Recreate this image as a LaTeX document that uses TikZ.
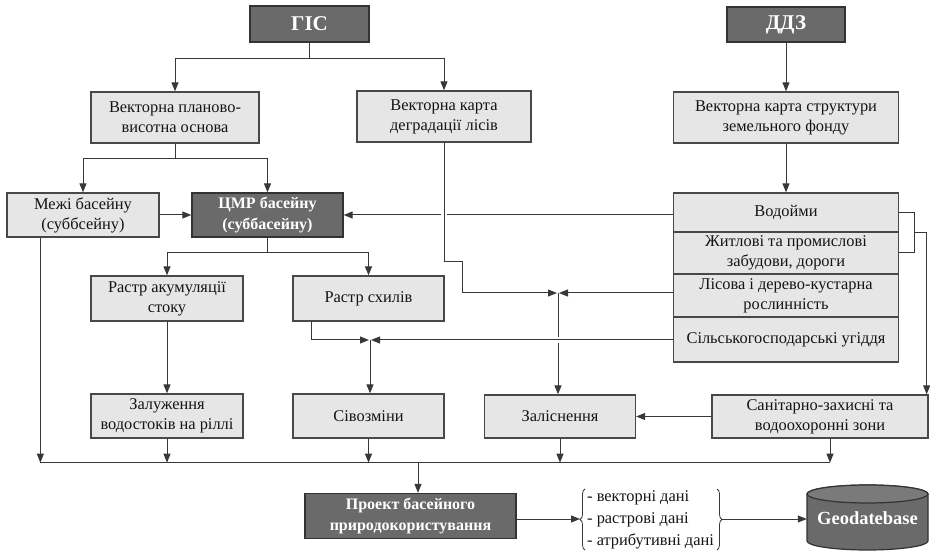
\documentclass[tikz,border=0pt]{standalone}
\usepackage{fontspec}
\setmainfont{Liberation Serif}
\usetikzlibrary{arrows.meta,calc,decorations.pathreplacing}
\definecolor{lightfill}{HTML}{E6E6E6}
\definecolor{darkfill}{HTML}{6A6A6A}
\definecolor{topfill}{HTML}{7A7A7A}
\definecolor{edgecol}{HTML}{484848}
\definecolor{wirecol}{HTML}{383838}
\begin{document}
\begin{tikzpicture}[x=1pt,y=-1pt,
  lbox/.style={draw=edgecol, line width=1.3pt, fill=lightfill, align=center,
    font=\fontsize{16.4}{20}\selectfont, inner sep=0pt, text=black!92},
  dbox/.style={draw=black!80, line width=1.3pt, fill=darkfill, align=center,
    font=\fontsize{16}{21}\selectfont\bfseries, text=white, inner sep=0pt},
  wire/.style={draw=wirecol, line width=1pt},
  arr/.style={wire, -{Triangle[length=9pt,width=7pt]}},
]
\useasboundingbox (0,0) rectangle (930,553);

% ---- nodes
\node[dbox, font=\fontsize{21}{24}\selectfont\bfseries, minimum width=119, minimum height=36] (gis) at (309.5,24) {ГІС};
\node[dbox, font=\fontsize{21}{24}\selectfont\bfseries, minimum width=118, minimum height=35] (ddz) at (786,24.5) {ДДЗ};
\node[lbox, minimum width=168, minimum height=51] (vpvo) at (175,117.5) {Векторна планово-\\висотна основа};
\node[lbox, minimum width=174, minimum height=51] (vkdl) at (444,116.5) {Векторна карта\\деградації лісів};
\node[lbox, minimum width=225, minimum height=51] (vksz) at (786,117.5) {Векторна карта структури\\земельного фонду};
\node[lbox, minimum width=152, minimum height=44] (mezhi) at (83,215) {Межі басейну\\(суббсейну)};
\node[dbox, minimum width=151, minimum height=44] (cmr) at (267.5,215) {ЦМР басейну\\(суббасейну)};
\node[lbox, minimum width=152, minimum height=45] (rak) at (167,298.5) {Растр акумуляції\\стоку};
\node[lbox, minimum width=151, minimum height=45] (rsh) at (368.5,298.5) {Растр схилів};
\node[lbox, minimum width=225, minimum height=39] (vod) at (786,212.5) {Водойми};
\node[lbox, minimum width=225, minimum height=42] (zhyt) at (786,253) {Житлові та промислові\\забудови, дороги};
\node[lbox, minimum width=225, minimum height=43] (lis) at (786,295.5) {Лісова і дерево-кустарна\\рослинність};
\node[lbox, minimum width=225, minimum height=45] (silg) at (786,339.5) {Сільськогосподарські угіддя};
\node[lbox, minimum width=152, minimum height=44] (zaluzh) at (167,416) {Залуження\\водостоків на ріллі};
\node[lbox, minimum width=151, minimum height=44] (sivoz) at (368.5,416) {Сівозміни};
\node[lbox, minimum width=151, minimum height=43] (zalis) at (560,416.5) {Заліснення};
\node[lbox, minimum width=216, minimum height=43] (sanit) at (820,416.5) {Санітарно-захисні та\\водоохоронні зони};
\node[dbox, minimum width=211, minimum height=45] (proekt) at (410.5,516) {Проект басейного\\природокористування};

% ---- cylinder
\filldraw[fill=darkfill, draw=black!80, line width=1.2pt]
  (807,494) -- (807,541) arc[start angle=180, end angle=360, x radius=60.5pt, y radius=9pt]
  -- (928,494) arc[start angle=0, end angle=180, x radius=60.5pt, y radius=9pt] -- cycle;
\filldraw[fill=topfill, draw=black!80, line width=1.2pt] (867.5,494) ellipse[x radius=60.5pt, y radius=9pt];
\node[minimum width=121, minimum height=66, inner sep=0pt, text=white,
  font=\fontsize{18.5}{20}\selectfont\bfseries] (geo) at (867.5,518) {\raisebox{-5pt}{Geodatebase}};

% ---- coordinates
\coordinate (gisbus) at ($(gis.south)+(0,16)$);
\coordinate (vbus) at ($(vpvo.south)+(0,15)$);
\coordinate (cbus) at ($(cmr.south)+(0,15)$);
\coordinate (J1) at (558,293);
\coordinate (J2) at (370,340);
\coordinate (cross) at (vkdl.south |- cmr.east);
\coordinate (cross2) at (J1 |- J2);
\coordinate (brk) at ($(vod.east)!0.5!(zhyt.east)+(15,0)$);
\coordinate (busL) at ($(mezhi.south west)+(34,225)$);
\coordinate (busR) at ($(sanit.south |- busL)+(10,0)$);
\coordinate (pin) at ($(proekt.north)+(7.5,0)$);
\coordinate (brL) at (580,519);
\coordinate (brR) at (722,519);

% ---- connectors
\draw[wire] (gis.south) -- (gisbus);
\draw[arr] (gisbus) -| (vpvo.north);
\draw[arr] (gisbus) -| (vkdl.north);
\draw[arr] (ddz.south) -- (vksz.north);
\draw[arr] (vksz.south) -- (vod.north);

\draw[wire] (vpvo.south) -- (vbus);
\draw[arr] (vbus) -| (mezhi.north);
\draw[arr] (vbus) -| (cmr.north);
\draw[arr] (mezhi.east) -- (cmr.west);
\draw[arr] (vod.west |- cmr.east) -- (cmr.east);

\draw[wire] (cmr.south) -- (cbus);
\draw[arr] (cbus) -| (rak.north);
\draw[arr] (cbus) -| (rsh.north);

\fill[white] ($(cross)+(-3,-3)$) rectangle ($(cross)+(3,3)$);
\draw[arr] (vkdl.south) -- ++(0,119) -- ++(18,0) |- ($(J1)+(-1,0)$);
\draw[arr] (lis.west |- J1) -- ($(J1)+(1,0)$);
\draw[arr] (J1) -- (J1 |- zalis.north);

\fill[white] ($(cross2)+(-3,-3)$) rectangle ($(cross2)+(3,3)$);
\draw[arr] ($(rsh.south west)+(19,0)$) |- ($(J2)+(-1,0)$);
\draw[arr] (silg.west |- J2) -- ($(J2)+(1,0)$);
\draw[arr] (J2) -- (J2 |- sivoz.north);

\draw[arr] (rak.south) -- (zaluzh.north);

\draw[wire] (vod.east) -- ++(15,0) |- (zhyt.east);
\draw[arr] (brk) -| ($(sanit.north east)+(-2,0)$);
\draw[arr] (sanit.west) -- (zalis.east);

\draw[wire] (busL) -- (busR);
\draw[arr] (mezhi.south west -| busL) -- (busL);
\draw[arr] (zaluzh.south) -- (zaluzh.south |- busL);
\draw[arr] (sivoz.south) -- (sivoz.south |- busL);
\draw[arr] (zalis.south) -- (zalis.south |- busL);
\draw[arr] (busR |- sanit.south) -- (busR);
\draw[arr] (pin |- busL) -- (pin);

% ---- list with braces
\draw[wire, line width=0.8pt, decorate, decoration={brace, amplitude=5pt}] (585,550) -- (585,489);
\draw[wire, line width=0.8pt, decorate, decoration={brace, amplitude=5pt}] (717,489) -- (717,550);
\node[anchor=west, align=left, inner sep=0pt, text=black!92,
  font=\fontsize{16.4}{22}\selectfont] (list) at (587,520) {- векторні дані\\- растрові дані\\- атрибутивні дані};
\draw[arr] (proekt.east |- brL) -- (brL);
\draw[arr] (brR) -- (geo.west |- brR);
\end{tikzpicture}
\end{document}
